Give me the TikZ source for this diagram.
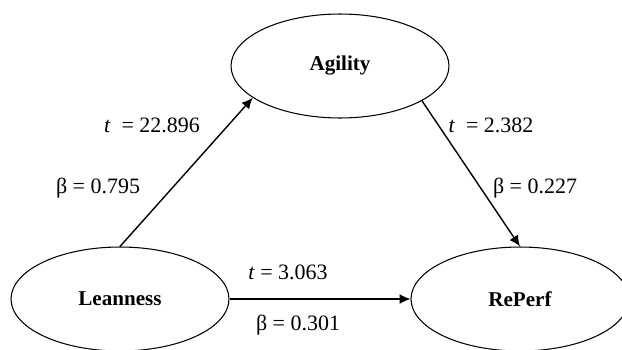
\documentclass[tikz,border=0pt]{standalone}
\usepackage{fontspec}
\setmainfont{Liberation Serif}
\usetikzlibrary{shapes.geometric,arrows.meta}
\tikzset{
    construct/.style={ellipse, draw, line width=0.6pt, inner sep=0pt,
        minimum width=4.36cm, minimum height=2.08cm,
        font=\fontsize{12}{14}\selectfont\bfseries},
    coef/.style={inner sep=1pt, font=\fontsize{12.5}{14}\selectfont},
    effect/.style={draw, line width=0.8pt, -{Latex[length=2.2mm,width=2mm]}}
}
\begin{document}
\begin{tikzpicture}[x=0.02cm, y=-0.02cm]
    \useasboundingbox (0,0) rectangle (622,349);
    \node[construct] (agility) at (340,66) {Agility};
    \node[construct] (leanness) at (120,299) {Leanness};
    \node[construct] (reperf) at (520,299) {RePerf};
    \draw[effect] (leanness.north) -- (agility.200);
    \draw[effect] (agility.337) -- (reperf.north);
    \draw[effect] (leanness.east) -- (reperf.west);
    \node[coef] (tLA) at (152,125) {\textit{t} \ = 22.896};
    \node[coef] (bLA) at (98,188) {β = 0.795};
    \node[coef] (tAR) at (491,125) {\textit{t} \ = 2.382};
    \node[coef] (bAR) at (535,188) {β = 0.227};
    \node[coef] (tLR) at (288,272) {\textit{t} = 3.063};
    \node[coef] (bLR) at (298,325) {β = 0.301};
\end{tikzpicture}
\end{document}
